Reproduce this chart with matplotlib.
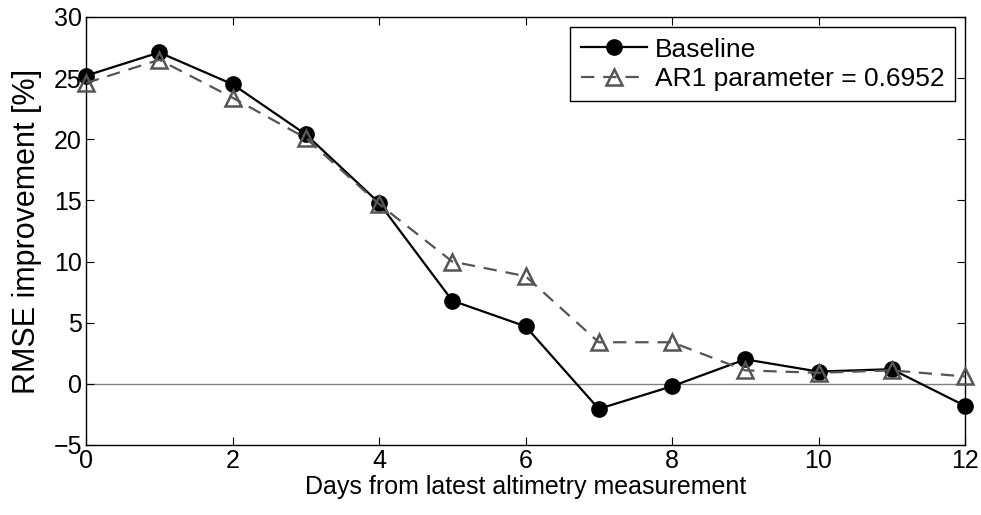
import matplotlib
matplotlib.use("Agg")
import matplotlib.pyplot as plt

plt.rcParams['font.family'] = ['Liberation Sans', 'DejaVu Sans']

days = list(range(13))
baseline = [25.2, 27.1, 24.5, 20.4, 14.8, 6.8, 4.7, -2.05, -0.2, 2.0, 1.0, 1.2, -1.8]
ar1 = [24.6, 26.5, 23.4, 20.1, 14.7, 10.0, 8.8, 3.4, 3.4, 1.1, 0.9, 1.1, 0.6]

fig = plt.figure(figsize=(9.81, 5.15), dpi=100)
ax = fig.add_axes([0.0877, 0.136, 0.896, 0.831])

ax.axhline(0, color='#808080', lw=1.0, zorder=1)
ax.plot(days, baseline, '-o', color='black', lw=1.6, markersize=11,
        label='Baseline', zorder=3, clip_on=False)
ax.plot(days, ar1, '--^', color='#555555', lw=1.6, markersize=11,
        markerfacecolor='none', markeredgewidth=1.8, dashes=(6, 4),
        label='AR1 parameter = 0.6952', zorder=4, clip_on=False)

ax.set_xlim(0, 12)
ax.set_ylim(-5, 30)
ax.set_xticks(range(0, 13, 2))
ax.set_yticks(range(-5, 31, 5))
ax.set_yticklabels(['\u22125'] + [str(v) for v in range(0, 31, 5)])
ax.tick_params(direction='in', top=True, right=True, labelsize=18, length=6, width=0.8, pad=3)
for s in ax.spines.values():
    s.set_linewidth(1.0)

ax.set_xlabel('Days from latest altimetry measurement', fontsize=18, labelpad=1)
ax.set_ylabel('RMSE improvement [%]', fontsize=22, labelpad=8)

leg = ax.legend(loc='upper right', fontsize=19, fancybox=False, framealpha=1,
                edgecolor='black', borderaxespad=0.38, handlelength=2.5,
                handletextpad=0.3, borderpad=0.4, labelspacing=0.2)
leg.get_frame().set_linewidth(1.0)

fig.savefig('out.png', dpi=100)
